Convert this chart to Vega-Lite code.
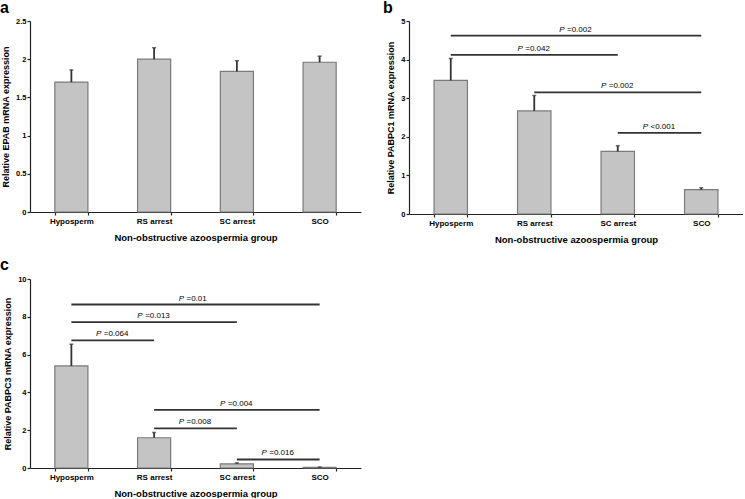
{
  "$schema": "https://vega.github.io/schema/vega-lite/v6.json",
  "padding": {"left": 0, "top": 0, "right": 0, "bottom": 0},
  "background": "white",
  "config": {
    "view": {"stroke": null},
    "font": "Liberation Sans",
    "axis": {"grid": false, "domainColor": "#222", "tickColor": "#222", "labelColor": "#000", "titleColor": "#000", "labelFont": "Liberation Sans", "titleFont": "Liberation Sans", "labelFontWeight": "bold", "titleFontWeight": "bold", "domainWidth": 1.2, "tickWidth": 1.2},
    "axisX": {"titleFontSize": 9.5, "titlePadding": 7, "labelAngle": 0, "labelFontSize": 8, "tickBand": "extent", "tickSize": 3, "labelPadding": 2},
    "axisY": {"titleFontSize": 9, "titlePadding": 5, "labelFontSize": 7.5, "tickSize": 3, "labelPadding": 1, "format": "~f", "labelOverlap": false},
    "title": {"font": "Liberation Sans", "fontWeight": "bold", "color": "#000", "anchor": "start", "frame": "group"}
  },
  "datasets": {
    "bars": [
      {"panel": "a", "group": "Hyposperm", "value": 1.7, "err": 1.86},
      {"panel": "a", "group": "RS arrest", "value": 2.0, "err": 2.15},
      {"panel": "a", "group": "SC arrest", "value": 1.84, "err": 1.98},
      {"panel": "a", "group": "SCO", "value": 1.96, "err": 2.04},
      {"panel": "b", "group": "Hyposperm", "value": 3.46, "err": 4.03},
      {"panel": "b", "group": "RS arrest", "value": 2.67, "err": 3.07},
      {"panel": "b", "group": "SC arrest", "value": 1.62, "err": 1.77},
      {"panel": "b", "group": "SCO", "value": 0.63, "err": 0.68},
      {"panel": "c", "group": "Hyposperm", "value": 5.4, "err": 6.55},
      {"panel": "c", "group": "RS arrest", "value": 1.6, "err": 1.88},
      {"panel": "c", "group": "SC arrest", "value": 0.22, "err": 0.27},
      {"panel": "c", "group": "SCO", "value": 0.03, "err": 0.05}
    ],
    "sig": [
      {"panel": "b", "i1": 0, "i2": 3, "y": 4.62, "p": "=0.002"},
      {"panel": "b", "i1": 0, "i2": 2, "y": 4.12, "p": "=0.042"},
      {"panel": "b", "i1": 1, "i2": 3, "y": 3.15, "p": "=0.002"},
      {"panel": "b", "i1": 2, "i2": 3, "y": 2.1, "p": "<0.001"},
      {"panel": "c", "i1": 0, "i2": 3, "y": 8.65, "p": "=0.01"},
      {"panel": "c", "i1": 0, "i2": 2, "y": 7.72, "p": "=0.013"},
      {"panel": "c", "i1": 0, "i2": 1, "y": 6.75, "p": "=0.064"},
      {"panel": "c", "i1": 1, "i2": 3, "y": 3.08, "p": "=0.004"},
      {"panel": "c", "i1": 1, "i2": 2, "y": 2.1, "p": "=0.008"},
      {"panel": "c", "i1": 2, "i2": 3, "y": 0.45, "p": "=0.016"}
    ]
  },
  "spacing": 13,
  "vconcat": [
    {
      "spacing": 22,
      "hconcat": [
        {
          "title": {"text": "a", "fontSize": 16, "dx": -30, "offset": 1},
          "width": 331, "height": 191,
          "data": {"name": "bars"},
          "transform": [{"filter": "datum.panel === 'a'"}],
          "encoding": {
            "x": {"field": "group", "type": "nominal", "sort": null,
              "scale": {"paddingInner": 0.6, "paddingOuter": 0.3},
              "axis": {"title": "Non-obstructive azoospermia group"}}
          },
          "layer": [
            {"mark": {"type": "bar", "fill": "#c4c4c4", "stroke": "#7a7a7a", "strokeWidth": 1.2},
              "encoding": {"y": {"field": "value", "type": "quantitative", "scale": {"domain": [0, 2.5], "nice": false},
                "axis": {"title": "Relative EPAB mRNA expression", "values": [0, 0.5, 1, 1.5, 2, 2.5]}}}},
            {"mark": {"type": "rule", "color": "#333", "strokeWidth": 1.8},
              "encoding": {"y": {"field": "value", "type": "quantitative", "axis": {"title": "Relative EPAB mRNA expression", "values": [0, 0.5, 1, 1.5, 2, 2.5]}}, "y2": {"field": "err"}}},
            {"mark": {"type": "tick", "color": "#333", "size": 4, "thickness": 1.5},
              "encoding": {"y": {"field": "err", "type": "quantitative", "axis": {"title": "Relative EPAB mRNA expression", "values": [0, 0.5, 1, 1.5, 2, 2.5]}}}}
          ]
        },
        {
          "title": {"text": "b", "fontSize": 16, "dx": -26, "offset": 1},
          "width": 334, "height": 193,
          "layer": [
            {
              "data": {"name": "bars"},
              "transform": [{"filter": "datum.panel === 'b'"}],
              "encoding": {
                "x": {"field": "group", "type": "nominal", "sort": null,
                  "scale": {"paddingInner": 0.6, "paddingOuter": 0.3},
                  "axis": {"title": "Non-obstructive azoospermia group"}}
              },
              "layer": [
                {"mark": {"type": "bar", "fill": "#c4c4c4", "stroke": "#7a7a7a", "strokeWidth": 1.2},
                  "encoding": {"y": {"field": "value", "type": "quantitative", "scale": {"domain": [0, 5], "nice": false},
                    "axis": {"title": "Relative PABPC1 mRNA expression", "values": [0, 1, 2, 3, 4, 5]}}}},
                {"mark": {"type": "rule", "color": "#333", "strokeWidth": 1.8},
                  "encoding": {"y": {"field": "value", "type": "quantitative", "axis": {"title": "Relative PABPC1 mRNA expression", "values": [0, 1, 2, 3, 4, 5]}}, "y2": {"field": "err"}}},
                {"mark": {"type": "tick", "color": "#333", "size": 4, "thickness": 1.5},
                  "encoding": {"y": {"field": "err", "type": "quantitative", "axis": {"title": "Relative PABPC1 mRNA expression", "values": [0, 1, 2, 3, 4, 5]}}}}
              ]
            },
            {
              "data": {"name": "sig"},
              "transform": [{"filter": "datum.panel === 'b'"}, {"calculate": "(datum.i1 + datum.i2) / 2", "as": "mid"}],
              "encoding": {"y": {"field": "y", "type": "quantitative", "axis": {"title": "Relative PABPC1 mRNA expression", "values": [0, 1, 2, 3, 4, 5]}}},
              "layer": [
                {"mark": {"type": "rule", "color": "#333", "strokeWidth": 1.8},
                  "encoding": {"x": {"field": "i1", "type": "quantitative", "scale": {"domain": [-0.5, 3.5], "nice": false, "zero": false}, "axis": null}, "x2": {"field": "i2"}}},
                {"mark": {"type": "text", "text": "P", "fontStyle": "italic", "fontSize": 8, "align": "right", "dx": -11.5, "dy": -4, "baseline": "alphabetic", "color": "#000"},
                  "encoding": {"x": {"field": "mid", "type": "quantitative"}}},
                {"mark": {"type": "text", "fontSize": 8, "align": "left", "dx": -9, "dy": -4, "baseline": "alphabetic", "color": "#000"},
                  "encoding": {"x": {"field": "mid", "type": "quantitative"}, "text": {"field": "p"}}}
              ]
            }
          ],
          "resolve": {"scale": {"x": "independent"}}
        }
      ]
    },
    {
      "title": {"text": "c", "fontSize": 16, "dx": -30, "offset": 2},
      "width": 331, "height": 189,
      "layer": [
        {
          "data": {"name": "bars"},
          "transform": [{"filter": "datum.panel === 'c'"}],
          "encoding": {
            "x": {"field": "group", "type": "nominal", "sort": null,
              "scale": {"paddingInner": 0.6, "paddingOuter": 0.3},
              "axis": {"title": "Non-obstructive azoospermia group"}}
          },
          "layer": [
            {"mark": {"type": "bar", "fill": "#c4c4c4", "stroke": "#7a7a7a", "strokeWidth": 1.2},
              "encoding": {"y": {"field": "value", "type": "quantitative", "scale": {"domain": [0, 10], "nice": false},
                "axis": {"title": "Relative PABPC3 mRNA expression", "values": [0, 2, 4, 6, 8, 10]}}}},
            {"mark": {"type": "rule", "color": "#333", "strokeWidth": 1.8},
              "encoding": {"y": {"field": "value", "type": "quantitative", "axis": {"title": "Relative PABPC3 mRNA expression", "values": [0, 2, 4, 6, 8, 10]}}, "y2": {"field": "err"}}},
            {"mark": {"type": "tick", "color": "#333", "size": 4, "thickness": 1.5},
              "encoding": {"y": {"field": "err", "type": "quantitative", "axis": {"title": "Relative PABPC3 mRNA expression", "values": [0, 2, 4, 6, 8, 10]}}}}
          ]
        },
        {
          "data": {"name": "sig"},
          "transform": [{"filter": "datum.panel === 'c'"}, {"calculate": "(datum.i1 + datum.i2) / 2", "as": "mid"}],
          "encoding": {"y": {"field": "y", "type": "quantitative", "axis": {"title": "Relative PABPC3 mRNA expression", "values": [0, 2, 4, 6, 8, 10]}}},
          "layer": [
            {"mark": {"type": "rule", "color": "#333", "strokeWidth": 1.8},
              "encoding": {"x": {"field": "i1", "type": "quantitative", "scale": {"domain": [-0.5, 3.5], "nice": false, "zero": false}, "axis": null}, "x2": {"field": "i2"}}},
            {"mark": {"type": "text", "text": "P", "fontStyle": "italic", "fontSize": 8, "align": "right", "dx": -11.5, "dy": -4, "baseline": "alphabetic", "color": "#000"},
              "encoding": {"x": {"field": "mid", "type": "quantitative"}}},
            {"mark": {"type": "text", "fontSize": 8, "align": "left", "dx": -9, "dy": -4, "baseline": "alphabetic", "color": "#000"},
              "encoding": {"x": {"field": "mid", "type": "quantitative"}, "text": {"field": "p"}}}
          ]
        }
      ],
      "resolve": {"scale": {"x": "independent"}}
    }
  ]
}
